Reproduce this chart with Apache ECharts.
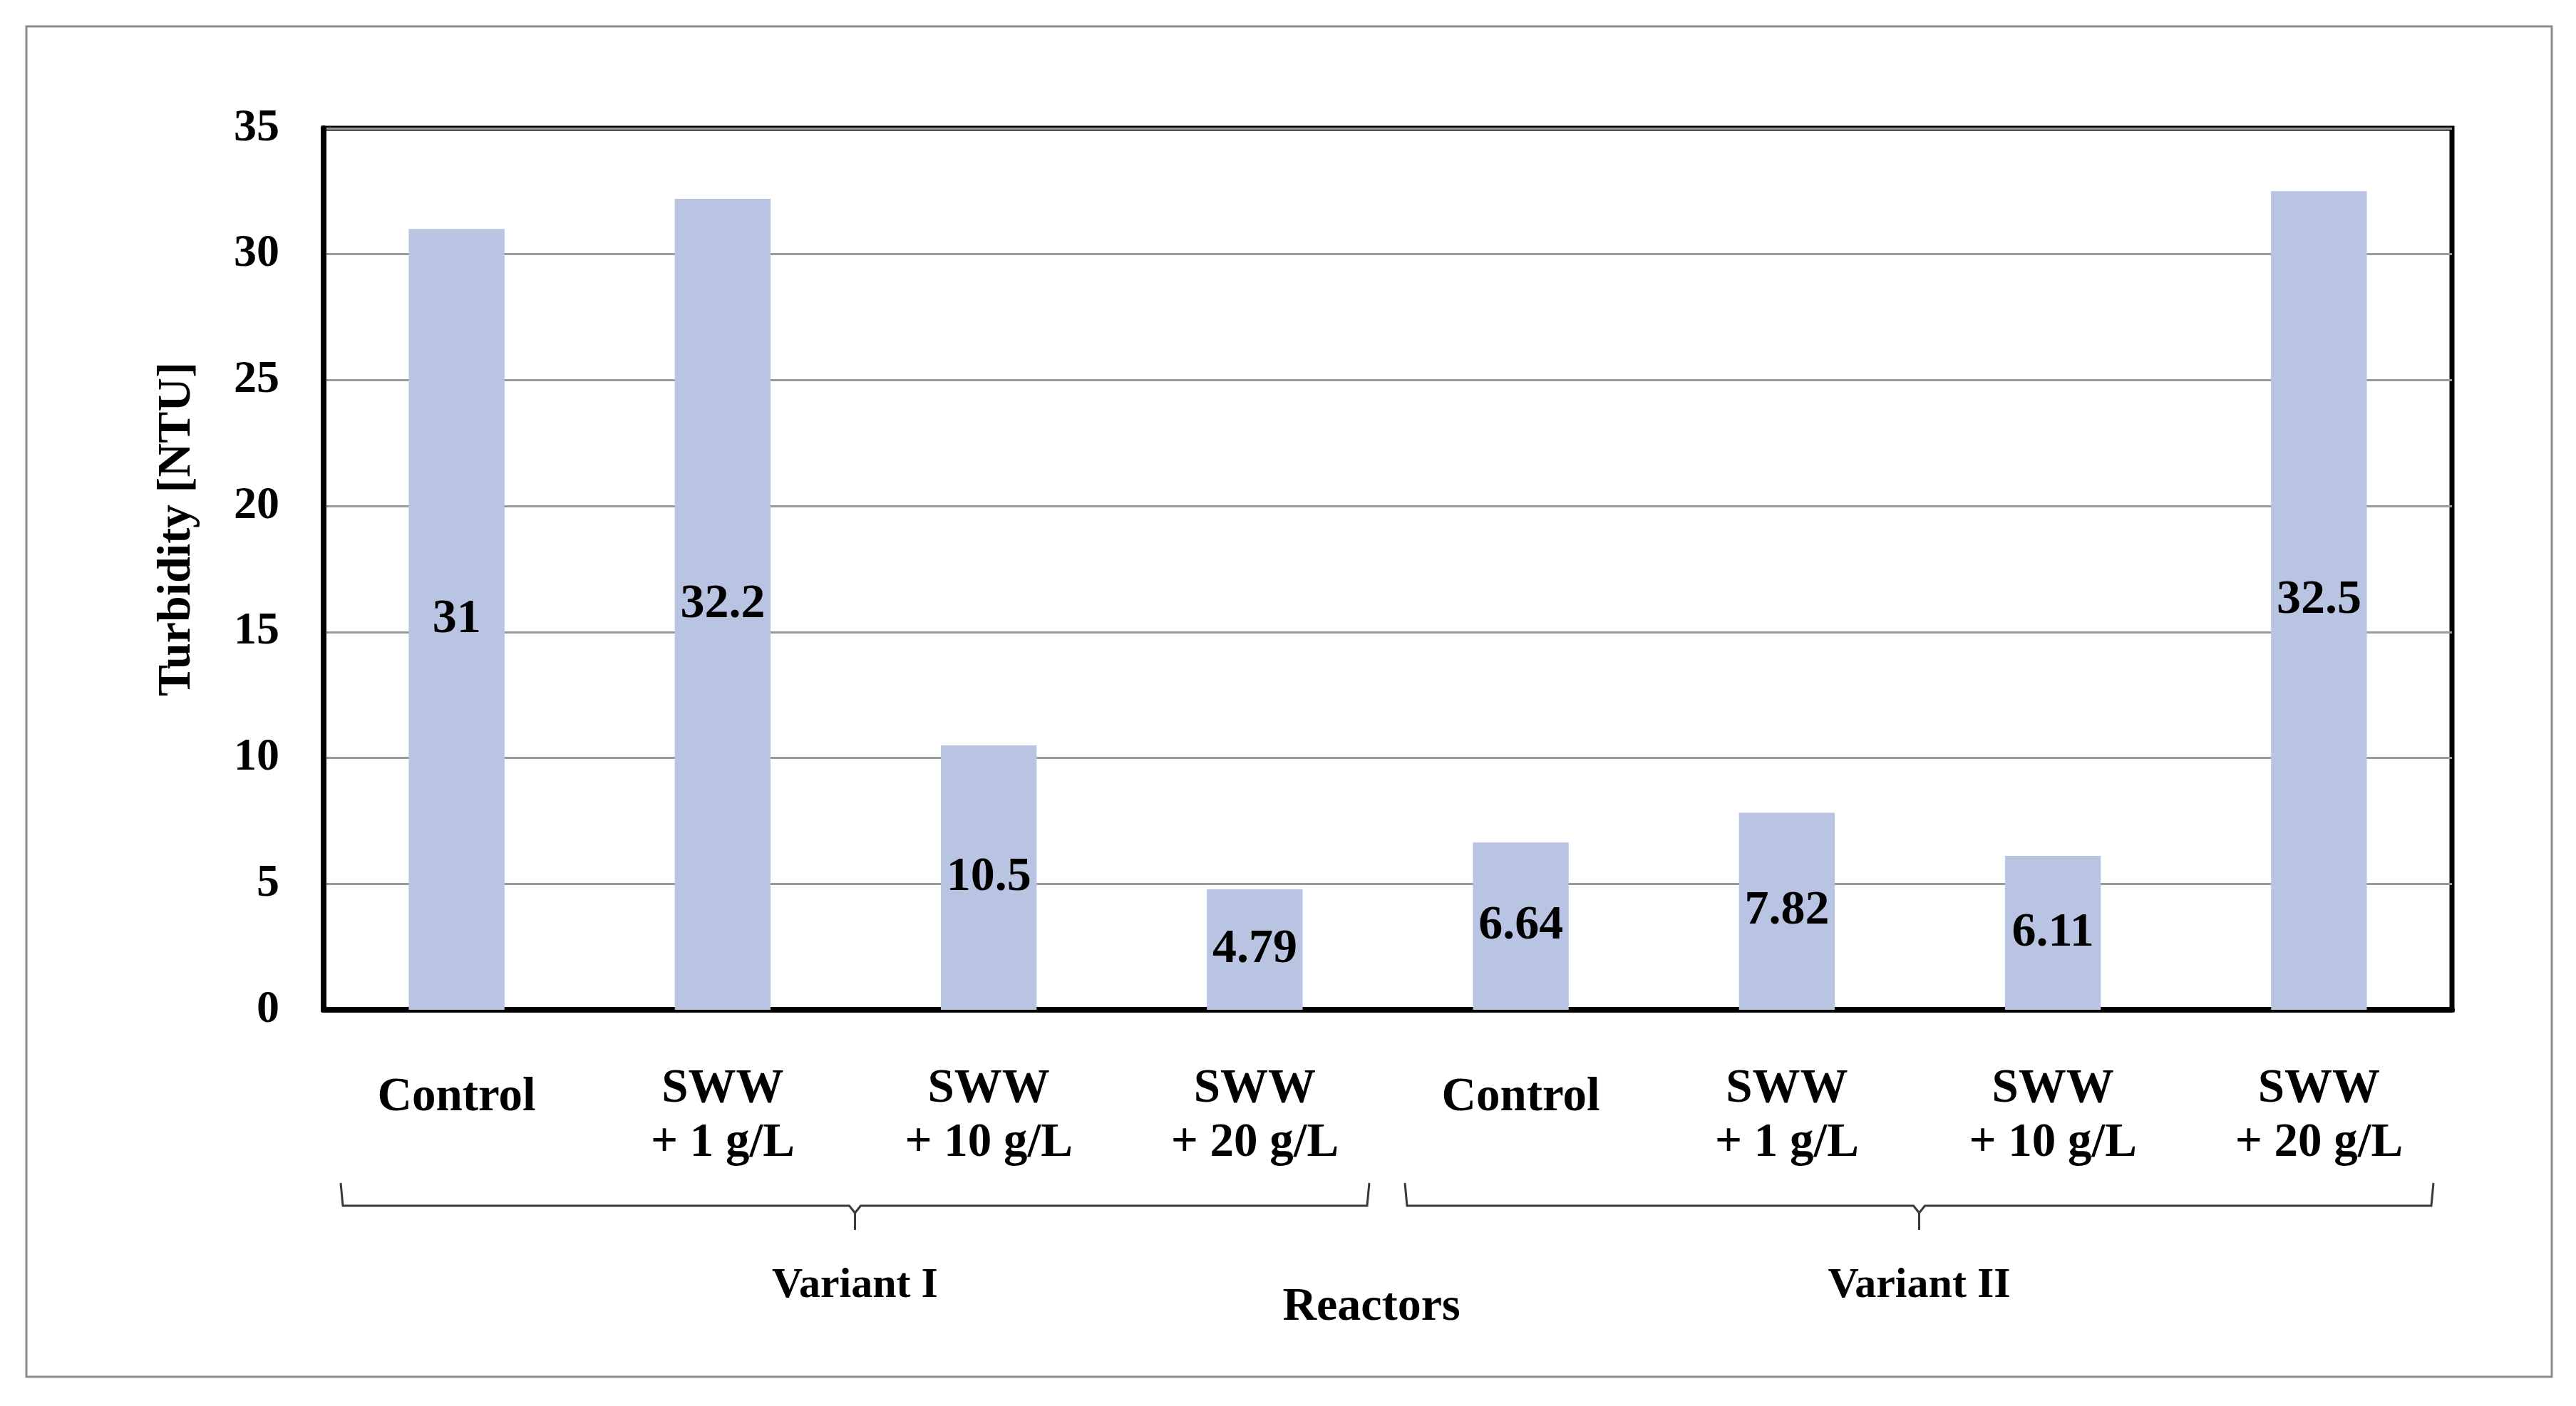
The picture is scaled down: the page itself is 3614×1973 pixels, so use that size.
<!DOCTYPE html>
<html>
<head>
<meta charset="utf-8">
<script src="https://cdn.jsdelivr.net/npm/echarts@6/dist/echarts.min.js"></script>
<style>
  html, body { margin: 0; padding: 0; background: #fff; }
  #chart { width: 3614px; height: 1973px; }
</style>
</head>
<body>
<div id="chart"></div>
<script>
// reactors (x axis)
const categories = ['Control', 'SWW\n+ 1 g/L', 'SWW\n+ 10 g/L', 'SWW\n+ 20 g/L',
                    'Control', 'SWW\n+ 1 g/L', 'SWW\n+ 10 g/L', 'SWW\n+ 20 g/L'];
// turbidity [NTU]
const turbidity = [31, 32.2, 10.5, 4.79, 6.64, 7.82, 6.11, 32.5];
// groups under the brackets
const groupNames = ['Variant I', 'Variant II'];
const groupStart = [0, 4];
const groupEnd = [3, 7];
// y axis
const yMin = 0, yMax = 35, yStep = 5;

const FONT = 'Liberation Serif';

let chartDiv = document.getElementById('chart');
let myChart = echarts.init(chartDiv, null, { renderer: 'canvas' });

let option = {
  backgroundColor: '#fff',
  animation: false,
  grid: {
    left: 454, right: 174, top: 180, bottom: 556,
    show: true,
    borderColor: '#000',
    borderWidth: 7
  },
  xAxis: {
    type: 'category',
    data: categories,
    name: 'Reactors',
    nameLocation: 'middle',
    nameGap: 418,
    nameTextStyle: {
      fontFamily: FONT, fontWeight: 'bold', fontSize: 66, color: '#000',
      verticalAlign: 'middle',
      padding: [0, 46, 0, 0]
    },
    axisLine: { lineStyle: { color: '#000', width: 8 } },
    axisTick: { show: false },
    axisLabel: {
      margin: 74,
      interval: 0,
      fontFamily: FONT, fontWeight: 'bold', fontSize: 67, color: '#000',
      lineHeight: 76,
      formatter: v => v.indexOf('\n') < 0 ? '{c|' + v + '}' : v,
      rich: {
        c: { fontFamily: FONT, fontWeight: 'bold', fontSize: 67, color: '#000', padding: [24, 0, 0, 0] }
      }
    }
  },
  yAxis: {
    type: 'value',
    min: yMin, max: yMax, interval: yStep,
    name: 'Turbidity [NTU]',
    nameLocation: 'middle',
    nameRotate: 90,
    nameGap: 205,
    nameTextStyle: {
      fontFamily: FONT, fontWeight: 'bold', fontSize: 66, color: '#000',
      verticalAlign: 'middle',
      padding: [0, 0, 0, 112]
    },
    axisLine: { show: true, lineStyle: { color: '#000', width: 8 } },
    axisTick: { show: false },
    splitLine: { lineStyle: { color: '#9a9a9a', width: 3 } },
    axisLabel: {
      margin: 62,
      fontFamily: FONT, fontWeight: 'bold', fontSize: 64, color: '#000'
    }
  },
  series: [{
    name: 'Turbidity',
    type: 'bar',
    data: turbidity,
    barWidth: '36%',
    itemStyle: { color: '#b9c3e2' },
    label: {
      show: true,
      position: 'inside',
      fontFamily: FONT, fontWeight: 'bold', fontSize: 68, color: '#000'
    }
  }]
};

myChart.setOption(option);

// brackets for Variant I / II, placed from the category axis
const px = i => myChart.convertToPixel({ xAxisIndex: 0 }, i);
const band = px(1) - px(0);
const baseY = myChart.convertToPixel({ yAxisIndex: 0 }, 0);
const lineY = baseY + 275;
const graphics = [{
  type: 'rect',
  shape: { x: 37, y: 37, width: 3543, height: 1895 },
  style: { fill: null, stroke: '#8c8c8c', lineWidth: 3 },
  silent: true
}];
groupNames.forEach((name, g) => {
  const x1 = px(groupStart[g]) - band / 2 + 24;
  const x2 = px(groupEnd[g]) + band / 2 - 26;
  const xc = (x1 + x2) / 2;
  graphics.push({
    type: 'polyline',
    shape: { points: [[x1, lineY - 32], [x1 + 3, lineY], [xc - 8, lineY], [xc, lineY + 10], [xc + 8, lineY], [x2 - 3, lineY], [x2, lineY - 32]] },
    style: { stroke: '#3a3a3a', lineWidth: 3, fill: null },
    silent: true
  });
  graphics.push({
    type: 'line',
    shape: { x1: xc, y1: lineY + 8, x2: xc, y2: lineY + 34 },
    style: { stroke: '#3a3a3a', lineWidth: 3 },
    silent: true
  });
  graphics.push({
    type: 'text',
    x: xc, y: lineY + 112,
    style: {
      text: name, fontFamily: FONT, fontWeight: 'bold', fontSize: 60, fill: '#000',
      align: 'center', verticalAlign: 'middle'
    },
    silent: true
  });
});
myChart.setOption({ graphic: graphics });
</script>
</body>
</html>
